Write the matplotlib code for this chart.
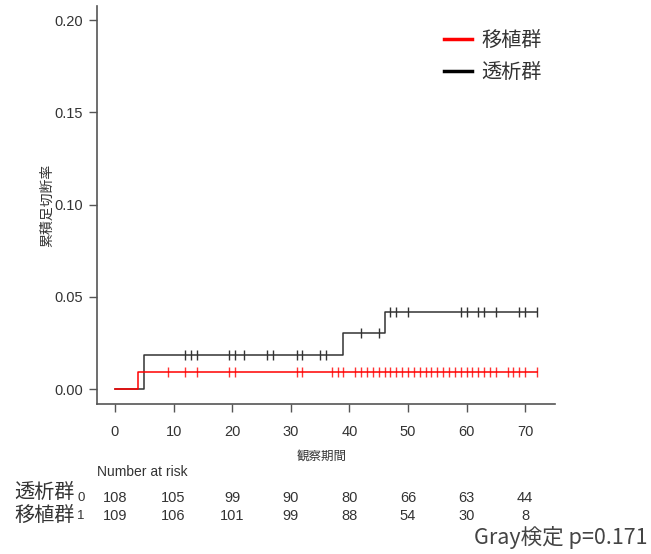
import numpy as np
import matplotlib
matplotlib.use('Agg')
import matplotlib.pyplot as plt
import matplotlib.transforms as mtransforms
from matplotlib.lines import Line2D

plt.rcParams['font.family'] = ['Liberation Sans', 'Noto Sans CJK JP', 'DejaVu Sans']
CJK = ['Noto Sans CJK JP', 'DejaVu Sans']

# --- data ---
group_names = ['透析群', '移植群']
group_codes = ['0', '1']

# cumulative incidence step curves (value holds from each time until the next)
dial_step_t = [0, 5, 39, 46, 72]
dial_step_y = [0.0, 0.0185, 0.0302, 0.0421, 0.0421]
trans_step_t = [0, 4, 72]
trans_step_y = [0.0, 0.0093, 0.0093]

# censoring times
dial_cens = [12, 13, 14, 19.5, 20.5, 22, 26, 27, 31, 32, 35, 36, 42, 45,
             47, 48, 50, 59, 60, 62, 63, 65, 69, 70, 72]
trans_cens = [9, 12, 14, 19.5, 20.5, 31, 32, 37, 38, 39, 41, 42, 43, 44, 45,
              46, 47, 48, 49, 50, 51, 52, 53, 54, 55, 56, 57, 58, 59, 60, 61,
              62, 63, 64, 65, 67, 68, 69, 70, 72]

risk_times = [0, 10, 20, 30, 40, 50, 60, 70]
risk_dial = [108, 105, 99, 90, 80, 66, 63, 44]
risk_trans = [109, 106, 101, 99, 88, 54, 30, 8]

y_ticks = [0.00, 0.05, 0.10, 0.15, 0.20]
x_ticks = [0, 10, 20, 30, 40, 50, 60, 70]

p_text = 'Gray検定 p=0.171'

DIAL_COLOR = '#333333'
TRANS_COLOR = '#ff0000'
AXIS_COLOR = '#555555'
TEXT_COLOR = '#333333'


def step_value(t_list, y_list, t):
    idx = np.searchsorted(t_list, t, side='right') - 1
    return np.asarray(y_list)[idx]


fig = plt.figure(figsize=(6.51, 5.54), dpi=100)
ax = fig.add_axes([97 / 651, 1 - 404 / 554, (555 - 97) / 651, (404 - 6) / 554])

# curves
ax.step(dial_step_t, dial_step_y, where='post', color=DIAL_COLOR, lw=1.1)
ax.step(trans_step_t, trans_step_y, where='post', color=TRANS_COLOR, lw=1.1)
ax.plot(dial_cens, step_value(dial_step_t, dial_step_y, dial_cens), '|',
        color=DIAL_COLOR, ms=7.5, mew=1.0)
ax.plot(trans_cens, step_value(trans_step_t, trans_step_y, trans_cens), '|',
        color=TRANS_COLOR, ms=7.5, mew=1.0, alpha=0.8)

ax.set_xlim(-3.07, 75.1)
ax.set_ylim(-0.008, 0.2076)
ax.set_xticks(x_ticks)
ax.set_yticks(y_ticks)
ax.set_yticklabels([f'{v:.2f}' for v in y_ticks])
for s in ['top', 'right']:
    ax.spines[s].set_visible(False)
for s in ['left', 'bottom']:
    ax.spines[s].set_color(AXIS_COLOR)
    ax.spines[s].set_linewidth(1.2)
ax.tick_params(direction='out', length=6, width=1.0, color=AXIS_COLOR,
               labelsize=10.5, labelcolor=TEXT_COLOR, pad=4)
ax.tick_params(axis='x', pad=9)

ax.set_xlabel('観察期間', fontsize=9, family=CJK, color=TEXT_COLOR)
ax.xaxis.set_label_coords(0.49, -0.115)
ax.set_ylabel('累積足切断率', fontsize=10, family=CJK, color=TEXT_COLOR)
ax.yaxis.set_label_coords(-0.094, 0.5)

# legend
handles = [Line2D([], [], color=TRANS_COLOR, lw=2.5),
           Line2D([], [], color='black', lw=2.5)]
leg = ax.legend(handles, [group_names[1], group_names[0]], loc='upper left',
                bbox_to_anchor=(0.758, 0.94), frameon=False, handlelength=1.4,
                handletextpad=0.45, labelspacing=0.55, borderpad=0,
                borderaxespad=0, prop={'family': CJK, 'size': 14.5})
for t in leg.get_texts():
    t.set_color(TEXT_COLOR)

# number at risk table
trans_x = mtransforms.blended_transform_factory(ax.transData, fig.transFigure)
fig.text(97 / 651, 1 - 472 / 554, 'Number at risk', fontsize=10,
         color=TEXT_COLOR, va='center', ha='left')
row_y = [1 - 498 / 554, 1 - 516 / 554]
label_y = [1 - 492 / 554, 1 - 515 / 554]
for name, code, counts, ry, ly in zip(group_names, group_codes,
                                       [risk_dial, risk_trans], row_y, label_y):
    fig.text(14 / 651, ly, name, fontsize=14.5, family=CJK, color=TEXT_COLOR,
             va='center', ha='left')
    fig.text(81 / 651, ry, code, fontsize=9.5, color=TEXT_COLOR,
             va='center', ha='center')
    for tx, n in zip(risk_times, counts):
        ax.text(tx, ry, str(n), transform=trans_x, fontsize=10.5,
                color=TEXT_COLOR, va='center', ha='center', clip_on=False)

fig.text(648 / 651, 1 - 537 / 554, p_text, fontsize=15.5, family=CJK,
         color='#444444', va='center', ha='right')

fig.savefig('out.png', dpi=100)
